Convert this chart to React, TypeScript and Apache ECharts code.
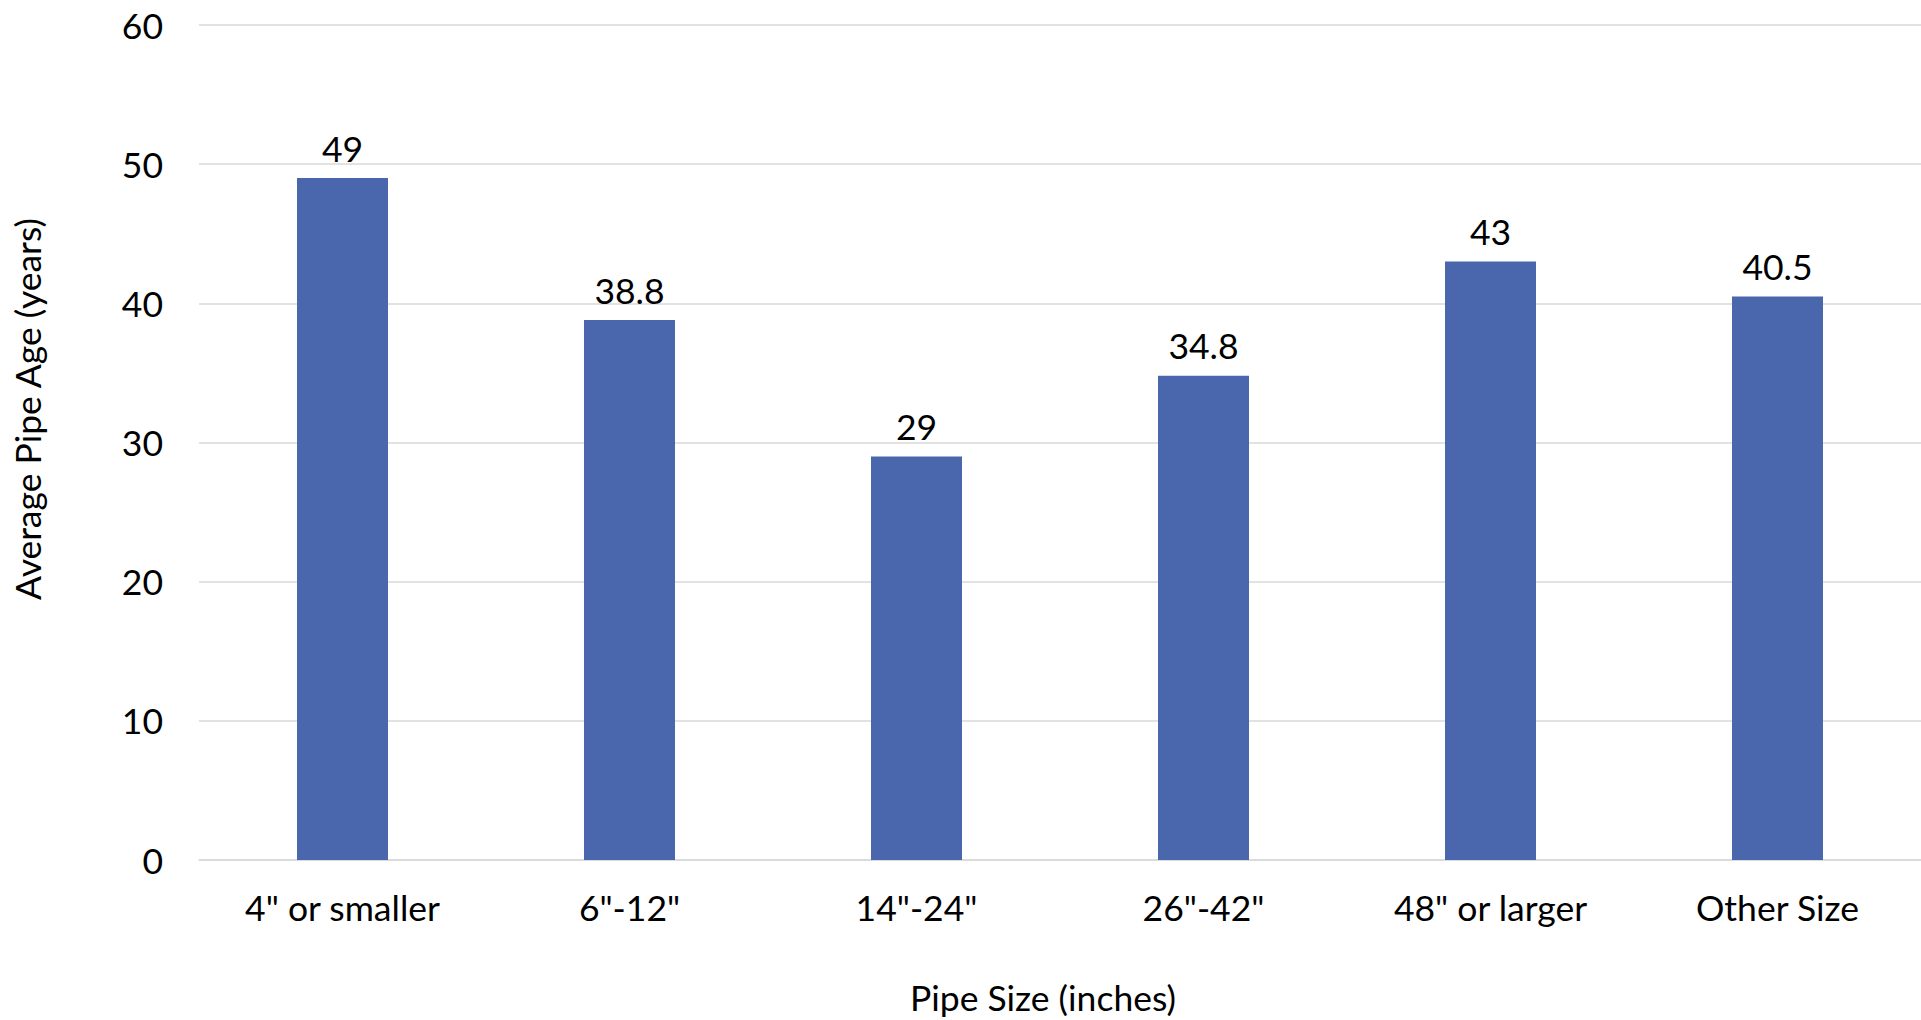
import React, { useEffect, useRef } from "react";
import * as echarts from "echarts";

const categories = ['4" or smaller', '6"-12"', '14"-24"', '26"-42"', '48" or larger', "Other Size"];
const ages = [49, 38.8, 29, 34.8, 43, 40.5];
const yTicks = { min: 0, max: 60, interval: 10 };
const xTitle = "Pipe Size (inches)";
const yTitle = "Average Pipe Age (years)";

const FONT = "Lato, 'Open Sans', sans-serif";
const FS = 35.5;

export default function App() {
  const ref = useRef<HTMLDivElement>(null);
  useEffect(() => {
    if (!ref.current) return;
    const chart = echarts.init(ref.current, null, { renderer: "svg" });
    chart.setOption({
      animation: false,
      backgroundColor: "#ffffff",
      textStyle: { fontFamily: FONT, color: "#000" },
      grid: { left: 199, top: 25, width: 1733, height: 835, containLabel: false },
      xAxis: {
        type: "category",
        data: categories,
        axisLine: { show: true, lineStyle: { color: "#d9d9d9", width: 1.5 } },
        axisTick: { show: false },
        axisLabel: { color: "#000", fontSize: FS, fontFamily: FONT, margin: 29 },
      },
      yAxis: {
        type: "value",
        min: yTicks.min,
        max: yTicks.max,
        interval: yTicks.interval,
        axisLine: { show: false },
        axisTick: { show: false },
        splitLine: { lineStyle: { color: "#d9d9d9", width: 1.5 } },
        axisLabel: { color: "#000", fontSize: FS, fontFamily: FONT, margin: 36 },
      },
      graphic: [
        {
          type: "text",
          x: 27,
          y: 409,
          rotation: Math.PI / 2,
          style: {
            text: yTitle,
            fontSize: FS,
            fontFamily: FONT,
            fill: "#000",
            align: "center",
            verticalAlign: "middle",
          },
        },
        {
          type: "text",
          x: 1043,
          y: 997,
          style: {
            text: xTitle,
            fontSize: FS,
            fontFamily: FONT,
            fill: "#000",
            align: "center",
            verticalAlign: "middle",
          },
        },
      ],
      series: [
        {
          type: "bar",
          data: ages,
          barWidth: 91,
          itemStyle: { color: "#4a67ad" },
          label: {
            show: true,
            position: "top",
            distance: 12,
            color: "#000",
            fontSize: FS,
            fontFamily: FONT,
          },
        },
      ],
    });
    return () => chart.dispose();
  }, []);
  return (
    <div
      ref={ref}
      style={{ position: "fixed", left: 0, top: 0, width: "1921px", height: "1020px", background: "#fff" }}
    />
  );
}
